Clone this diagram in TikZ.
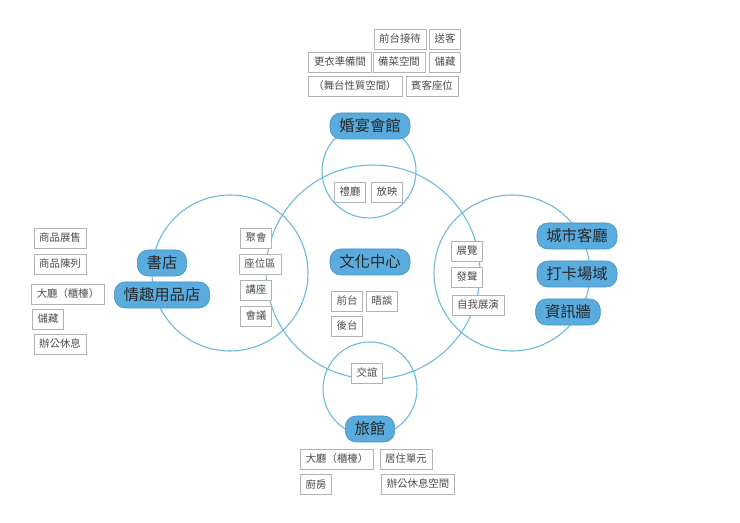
\documentclass[tikz,border=0pt]{standalone}
\usepackage{fontspec}
\setmainfont{Noto Sans CJK TC}
\begin{document}
\begin{tikzpicture}[x=0.75pt,y=-0.75pt,
  ring/.style={draw=circ,line width=0.8pt},
  pill/.style={draw=pillb,fill=pillf,rounded corners=8pt,minimum height=19.5pt,inner xsep=7pt,font=\fontsize{11.5}{12}\selectfont,text=black!85},
  tag/.style={draw=black!30,fill=white,minimum height=15pt,inner xsep=4pt,inner ysep=0pt,font=\fontsize{7.8}{9}\selectfont,text=black!70}]
\definecolor{circ}{HTML}{6BB8DD}
\definecolor{pillf}{HTML}{5AACDF}
\definecolor{pillb}{HTML}{3E8EC2}
\useasboundingbox (0,0) rectangle (740,523);
\fill[white] (0,0) rectangle (740,523);
\draw[ring] (373,272) circle[radius=107];
\draw[ring] (230,273) circle[radius=78];
\draw[ring] (512,273) circle[radius=78];
\draw[ring] (369,171) circle[radius=47];
\draw[ring] (370,389) circle[radius=47];
\node[pill] (hy) at (370,126) {婚宴會館};
\node[pill] (sd) at (162,263) {書店};
\node[pill] (qq) at (162,295) {情趣用品店};
\node[pill] (wh) at (370,262) {文化中心};
\node[pill] (cs) at (577,236) {城市客廳};
\node[pill] (dk) at (577,274) {打卡場域};
\node[pill] (zx) at (568,312) {資訊牆};
\node[pill] (lg) at (370,429) {旅館};
\node[tag] (t1) at (400,39) {前台接待};
\node[tag] (t2) at (445,39) {送客};
\node[tag] (t3) at (340,62) {更衣準備間};
\node[tag] (t4) at (399,62) {備菜空間};
\node[tag] (t5) at (445,62) {儲藏};
\node[tag] (t6) at (355,86) {（舞台性質空間）};
\node[tag] (t7) at (432,86) {賓客座位};
\node[tag] (t8) at (350,192) {禮廳};
\node[tag] (t9) at (387,192) {放映};
\node[tag] (l1) at (60,238) {商品展售};
\node[tag] (l2) at (60,264) {商品陳列};
\node[tag] (l3) at (68,294) {大廳（櫃檯）};
\node[tag] (l4) at (48,319) {儲藏};
\node[tag] (l5) at (60,344) {辦公休息};
\node[tag] (m1) at (256,238) {聚會};
\node[tag] (m2) at (260,264) {座位區};
\node[tag] (m3) at (256,290) {講座};
\node[tag] (m4) at (256,316) {會議};
\node[tag] (c1) at (347,301) {前台};
\node[tag] (c2) at (382,301) {晤談};
\node[tag] (c3) at (347,326) {後台};
\node[tag] (c4) at (367,373) {交誼};
\node[tag] (r1) at (467,251) {展覽};
\node[tag] (r2) at (467,277) {發聲};
\node[tag] (r3) at (478,305) {自我展演};
\node[tag] (b1) at (337,459) {大廳（櫃檯）};
\node[tag] (b2) at (406,459) {居住單元};
\node[tag] (b3) at (316,484) {廚房};
\node[tag] (b4) at (418,484) {辦公休息空間};
\end{tikzpicture}
\end{document}
